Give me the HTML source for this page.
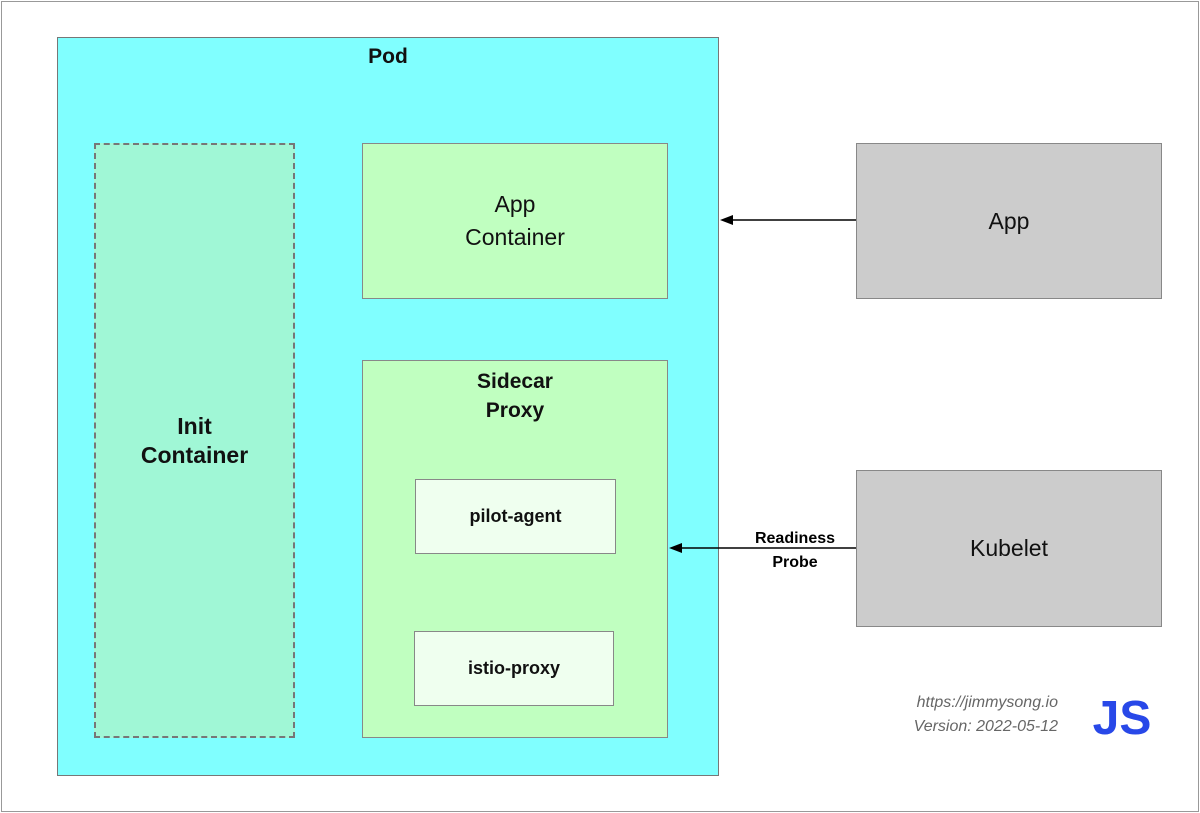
<!DOCTYPE html>
<html><head><meta charset="utf-8"><style>
body{margin:0;width:1200px;height:813px;background:#fff;position:relative;overflow:hidden;font-family:"Liberation Sans",Arial,sans-serif;}
.b{position:absolute;box-sizing:border-box;display:flex;align-items:center;justify-content:center;text-align:center;color:#111;}
</style></head><body>
<div class="b" style="left:1px;top:1px;width:1198px;height:811px;border:1px solid #999;"></div>
<div class="b" style="left:57px;top:37px;width:662px;height:739px;background:#80ffff;border:1px solid #777;align-items:flex-start;"><div style="font-weight:bold;font-size:21px;margin-top:7px;">Pod</div></div>
<div class="b" style="left:94px;top:143px;width:201px;height:595px;background:#a0f7d6;border:2px dashed #777;font-weight:bold;font-size:23px;line-height:29px;">Init<br>Container</div>
<div class="b" style="left:362px;top:143px;width:306px;height:156px;background:#c0ffc0;border:1px solid #888;font-size:23px;line-height:33px;">App<br>Container</div>
<div class="b" style="left:362px;top:360px;width:306px;height:378px;background:#c0ffc0;border:1px solid #888;align-items:flex-start;"><div style="font-weight:bold;font-size:21px;line-height:29px;margin-top:6px;">Sidecar<br>Proxy</div></div>
<div class="b" style="left:415px;top:479px;width:201px;height:75px;background:#efffef;border:1px solid #888;font-weight:bold;font-size:18px;">pilot-agent</div>
<div class="b" style="left:414px;top:631px;width:200px;height:75px;background:#efffef;border:1px solid #888;font-weight:bold;font-size:18px;">istio-proxy</div>
<div class="b" style="left:856px;top:143px;width:306px;height:156px;background:#cccccc;border:1px solid #888;font-size:23px;">App</div>
<div class="b" style="left:856px;top:470px;width:306px;height:157px;background:#cccccc;border:1px solid #888;font-size:23px;">Kubelet</div>
<svg style="position:absolute;left:0;top:0" width="1200" height="813">
<line x1="856" y1="220" x2="730" y2="220" stroke="#000" stroke-width="1.5"/>
<polygon points="720,220 733,215 733,225" fill="#000"/>
<line x1="856" y1="548" x2="680" y2="548" stroke="#000" stroke-width="1.5"/>
<polygon points="669,548 682,543 682,553" fill="#000"/>
<text x="795" y="543" font-size="16" font-weight="bold" text-anchor="middle" font-family="Liberation Sans,sans-serif">Readiness</text>
<text x="795" y="567" font-size="16" font-weight="bold" text-anchor="middle" font-family="Liberation Sans,sans-serif">Probe</text>
<text x="1058" y="707" font-size="16" font-style="italic" fill="#666" text-anchor="end" font-family="Liberation Sans,sans-serif">https://jimmysong.io</text>
<text x="1058" y="731" font-size="16" font-style="italic" fill="#666" text-anchor="end" font-family="Liberation Sans,sans-serif">Version: 2022-05-12</text>
<text x="1122" y="734" font-size="48" font-weight="bold" fill="#2848e8" text-anchor="middle" font-family="Liberation Sans,sans-serif">JS</text>
</svg>
</body></html>
